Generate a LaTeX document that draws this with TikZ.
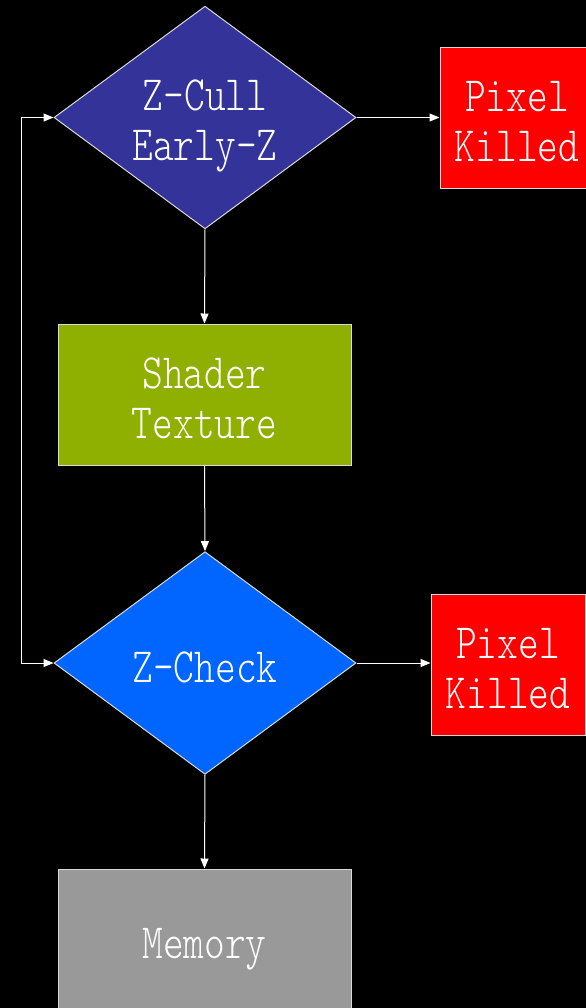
\documentclass[tikz,border=0pt]{standalone}
\usepackage{fontspec}
\newfontfamily\stagefont[FakeStretch=0.8]{Latin Modern Mono Light}
\usetikzlibrary{shapes.geometric, arrows.meta}

\definecolor{cullblue}{RGB}{51,51,153}
\definecolor{shadergreen}{RGB}{143,176,0}
\definecolor{checkblue}{RGB}{0,102,255}
\definecolor{killred}{RGB}{255,0,0}
\definecolor{memgray}{RGB}{153,153,153}

% strut that pushes the first text line down a little
\newcommand\toppad[1]{\rule{0pt}{#1}}

\tikzset{
  stage/.style={draw=white!85!black, line width=0.75pt, text=white,
    font=\stagefont\fontsize{37}{37.5}\selectfont, align=center, inner sep=0pt},
  test/.style={stage, diamond, aspect=1.35, minimum width=226.5pt, minimum height=167pt},
  block/.style={stage, rectangle, minimum width=219.75pt, minimum height=105.75pt},
  killbox/.style={stage, rectangle, fill=killred, minimum width=115.5pt, minimum height=105.75pt},
  flow/.style={draw=white, line width=0.75pt, ->},
  >={Triangle[length=7.5pt,width=6pt]},
}

\begin{document}
\begin{tikzpicture}[x=0.75pt, y=-0.75pt]
    % Black page
    \useasboundingbox (0,0) rectangle (586,1008);
    \fill[black] (0,0) rectangle (586,1008);

    % Pipeline stages
    \node[test, fill=cullblue] (zcull) at (205,117.5) {\toppad{36pt}Z-Cull\\Early-Z};
    \node[killbox] (killA) at (517,117.5) {\toppad{29pt}Pixel\\Killed};
    \node[block, fill=shadergreen] (shader) at (204.5,394.5) {\toppad{29pt}Shader\\Texture};
    \node[test, fill=checkblue] (zcheck) at (205,663) {\toppad{30pt}Z-Check};
    \node[killbox] (killB) at (508,664.5) {\toppad{29pt}Pixel\\Killed};
    \node[block, fill=memgray] (memory) at (204.5,939.5) {\toppad{37.5pt}Memory};

    % Connectors
    \draw[flow] (zcull.east) -- (killA.west |- zcull.east);
    \draw[flow] (zcull.south) -- (shader.north);
    \draw[flow] (shader.south) -- (zcheck.north);
    \draw[flow] (zcheck.east) -- (killB.west |- zcheck.east);
    \draw[flow] (zcheck.south) -- (memory.north);

    % Feedback line on the left
    \draw[flow, <->] (zcull.west) -- ++(-32,0) |- (zcheck.west);
\end{tikzpicture}
\end{document}
